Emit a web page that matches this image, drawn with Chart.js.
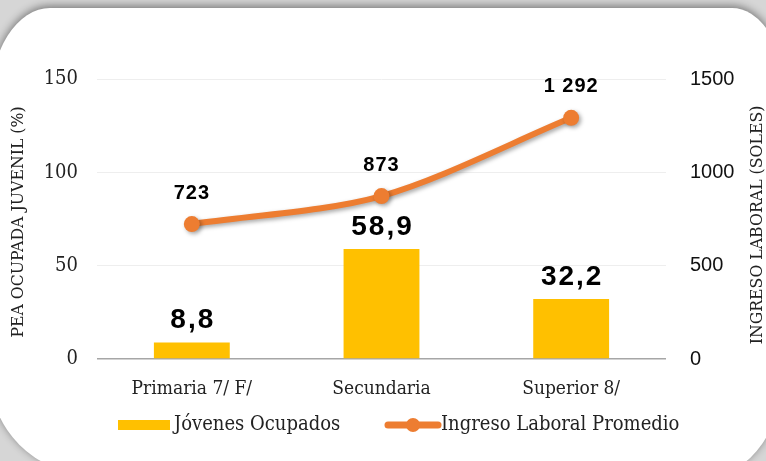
<!DOCTYPE html>
<html>
<head>
<meta charset="utf-8">
<script src="https://cdn.jsdelivr.net/npm/chart.js@4.4.1/dist/chart.umd.min.js"></script>
<style>
  html, body { margin: 0; padding: 0; }
  body { width: 766px; height: 461px; overflow: hidden; background: #d6d6d6; position: relative; }
  .tarjeta {
    position: absolute; left: -10px; top: 8px; width: 792px; height: 466px;
    background: #ffffff;
    border-radius: 60px 50px 70px 100px / 95px 75px 100px 100px;
    box-shadow: 0 -2px 8px rgba(0,0,0,0.45);
  }
  #graficoEmpleo { position: absolute; left: 0; top: 0; }
</style>
</head>
<body>
<div class="tarjeta"></div>
<canvas id="graficoEmpleo" width="766" height="461"></canvas>
<script>
// datos
const categorias = ["Primaria 7/ F/", "Secundaria", "Superior 8/"];
const jovenesOcupados = [8.8, 58.9, 32.2];        // % PEA ocupada juvenil
const ingresoPromedio = [723, 873, 1292];          // soles
const ticksIzq = [0, 50, 100, 150];
const ticksDer = [0, 500, 1000, 1500];

const AMARILLO = '#FFC000';
const NARANJA = '#ED7D31';
const SERIF = "'DejaVu Serif Condensed', 'DejaVu Serif', serif";
const SANS = "'Liberation Sans', Arial, sans-serif";

function formatoDecimal(v) {
    return v.toFixed(1).replace('.', ',');
}
function formatoMiles(v) {
    return String(v).replace(/\B(?=(\d{3})+(?!\d))/g, ' ');
}

// etiquetas de datos, titulos de ejes y leyenda
const pluginEtiquetas = {
    id: 'etiquetas',
    beforeDatasetDraw(chart, args) {
        if (args.index === 1) {
            const ctx = chart.ctx;
            ctx.save();
            ctx.shadowColor = 'rgba(0,0,0,0.35)';
            ctx.shadowBlur = 4;
            ctx.shadowOffsetX = 2;
            ctx.shadowOffsetY = 2;
        }
    },
    afterDatasetDraw(chart, args) {
        if (args.index === 1) chart.ctx.restore();
    },
    afterDraw(chart) {
        const ctx = chart.ctx;
        ctx.save();
        ctx.fillStyle = '#000';
        ctx.textAlign = 'center';

        // valores de barras
        ctx.font = 'bold 28px ' + SANS;
        ctx.letterSpacing = '2px';
        ctx.textBaseline = 'bottom';
        chart.getDatasetMeta(0).data.forEach((bar, i) => {
            ctx.fillText(formatoDecimal(jovenesOcupados[i]), bar.x + 1, bar.y - 8);
        });

        // valores de la linea
        ctx.font = 'bold 20px ' + SANS;
        ctx.letterSpacing = '1px';
        ctx.textBaseline = 'middle';
        chart.getDatasetMeta(1).data.forEach((pt, i) => {
            ctx.fillText(formatoMiles(ingresoPromedio[i]), pt.x, pt.y - 31);
        });
        ctx.letterSpacing = '0px';

        // titulos de ejes
        const area = chart.chartArea;
        const medio = (area.top + area.bottom) / 2;
        ctx.font = '17.5px ' + SERIF;
        ctx.fillStyle = '#222';
        ctx.save();
        ctx.translate(18, medio + 3);
        ctx.rotate(-Math.PI / 2);
        ctx.fillText('PEA OCUPADA JUVENIL (%)', 0, 0);
        ctx.restore();
        ctx.save();
        ctx.translate(757, medio + 6);
        ctx.rotate(-Math.PI / 2);
        ctx.fillText('INGRESO LABORAL (SOLES)', 0, 0);
        ctx.restore();

        // leyenda
        const yLey = 425;
        ctx.fillStyle = AMARILLO;
        ctx.fillRect(118, yLey - 5, 52, 10);
        ctx.strokeStyle = NARANJA;
        ctx.lineWidth = 7;
        ctx.lineCap = 'round';
        ctx.beginPath();
        ctx.moveTo(388, yLey);
        ctx.lineTo(438, yLey);
        ctx.stroke();
        ctx.fillStyle = NARANJA;
        ctx.beginPath();
        ctx.arc(413, yLey, 7, 0, Math.PI * 2);
        ctx.fill();
        ctx.fillStyle = '#222';
        ctx.font = '20px ' + SERIF;
        ctx.textAlign = 'left';
        ctx.fillText('Jóvenes Ocupados', 174, yLey);
        ctx.fillText('Ingreso Laboral Promedio', 441, yLey);
        ctx.restore();
    }
};

function configuracionGrafico() {
    return {
        data: {
            labels: categorias,
            datasets: [{
                type: 'bar',
                label: 'Jóvenes Ocupados',
                data: jovenesOcupados,
                backgroundColor: AMARILLO,
                yAxisID: 'y',
                barPercentage: 0.4,
                categoryPercentage: 1,
                order: 1
            }, {
                type: 'line',
                label: 'Ingreso Laboral Promedio',
                data: ingresoPromedio,
                borderColor: NARANJA,
                backgroundColor: NARANJA,
                borderWidth: 6,
                pointRadius: 8,
                pointBackgroundColor: NARANJA,
                pointBorderWidth: 0,
                tension: 0.3,
                yAxisID: 'y1',
                order: 0
            }]
        },
        options: {
            responsive: false,
            animation: false,
            layout: { padding: { top: 79, right: 0, left: 0, bottom: 0 } },
            plugins: {
                legend: { display: false },
                tooltip: { enabled: false }
            },
            scales: {
                x: {
                    grid: { display: false },
                    border: { display: false },
                    ticks: { color: '#222', font: { family: SERIF, size: 19 }, padding: 11 },
                    afterFit: (s) => { s.height = 102; }
                },
                y: {
                    position: 'left',
                    min: 0, max: 150,
                    afterBuildTicks: (s) => { s.ticks = ticksIzq.map(v => ({ value: v })); },
                    grid: {
                        color: (c) => c.tick.value === 0 ? '#a6a6a6' : '#eeeeee',
                        lineWidth: (c) => c.tick.value === 0 ? 1.5 : 1,
                        drawTicks: false
                    },
                    border: { display: false },
                    ticks: { color: '#222', font: { family: SERIF, size: 20 }, padding: 19 },
                    afterFit: (s) => { s.width = 97; }
                },
                y1: {
                    position: 'right',
                    min: 0, max: 1500,
                    afterBuildTicks: (s) => { s.ticks = ticksDer.map(v => ({ value: v })); },
                    grid: { display: false, drawTicks: false },
                    border: { display: false },
                    ticks: {
                        color: '#111', font: { family: SANS, size: 20 }, padding: 24,
                        callback: (v) => String(v)
                    },
                    afterFit: (s) => { s.width = 100; }
                }
            }
        },
        plugins: [pluginEtiquetas]
    };
}

document.addEventListener('DOMContentLoaded', () => {
    const lienzo = document.getElementById('graficoEmpleo');
    if (lienzo) {
        new Chart(lienzo, configuracionGrafico());
    } else {
        console.error('No se encontró el canvas graficoEmpleo');
    }
});
</script>
</body>
</html>
